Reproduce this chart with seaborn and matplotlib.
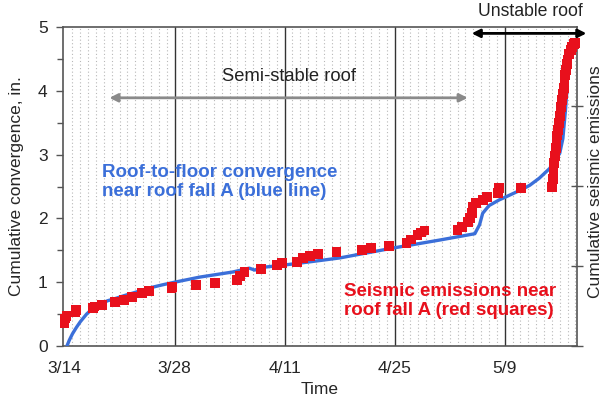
import matplotlib
matplotlib.use("Agg")
import matplotlib.pyplot as plt
import seaborn as sns
import numpy as np
import pandas as pd
from matplotlib.ticker import MultipleLocator, FixedLocator, NullFormatter

# ---- data (days since 3/14) ----
tick_days = [0, 14, 28, 42, 56]
tick_labels = ["3/14", "3/28", "4/11", "4/25", "5/9"]

conv_day = [0.3, 0.6, 1.0, 1.5, 2.0, 2.8, 3.6, 4.5, 5.5, 6.6, 7.6, 8.7, 10.8, 12.5, 14.0,
            17.2, 21.4, 23.5, 24.2, 25.0, 28.0,
            30.0, 35.0, 42.0, 47.7, 52.2, 52.8, 53.2, 54.0, 55.3, 56.2, 58.3, 59.2, 60.4,
            61.7, 62.3, 63.0, 63.4, 63.7, 63.9, 64.0]
conv_val = [0.0, 0.09, 0.19, 0.29, 0.38, 0.50, 0.59, 0.66, 0.71, 0.75, 0.79, 0.83, 0.91, 0.96, 1.0,
            1.08, 1.16, 1.22, 1.19, 1.23, 1.27,
            1.30, 1.38, 1.54, 1.66, 1.76, 1.9, 2.08, 2.2, 2.29, 2.34, 2.46, 2.52, 2.63,
            2.78, 2.88, 3.02, 3.25, 3.65, 3.97, 4.3]

seis_day = [0.0, 0.05, 0.25, 1.4, 1.5, 3.6, 3.8, 4.8, 6.4, 7.6, 8.6, 9.9, 10.7, 13.6, 13.7,
            16.7, 19.1, 21.9, 22.3, 22.9, 25.0, 27.0, 27.7, 29.6, 30.3, 31.2, 32.2, 34.6,
            37.8, 39.0, 41.3, 43.5, 44.1, 44.9, 45.4, 45.8,
            50.0, 50.6, 51.3, 51.6, 51.8, 51.9, 52.4, 53.2, 53.8, 55.1, 55.3, 58.1,
            62.0, 62.1, 62.2, 62.3, 62.4, 62.5, 62.6, 62.7, 62.8, 62.9, 63.0, 63.1, 63.2,
            63.3, 63.4, 63.5, 63.6, 63.7, 63.8, 63.9, 64.0, 64.2, 64.4, 64.6, 64.8, 64.9]
seis_val = [0.36, 0.43, 0.47, 0.53, 0.56, 0.59, 0.62, 0.64, 0.69, 0.72, 0.77, 0.83, 0.86, 0.90, 0.93,
            0.96, 0.99, 1.03, 1.10, 1.16, 1.21, 1.27, 1.30, 1.32, 1.38, 1.41, 1.44, 1.47,
            1.50, 1.53, 1.57, 1.61, 1.67, 1.74, 1.78, 1.81,
            1.82, 1.87, 1.94, 2.0, 2.08, 2.18, 2.24, 2.29, 2.33, 2.40, 2.48, 2.48,
            2.49, 2.62, 2.75, 2.87, 2.98, 3.10, 3.20, 3.30, 3.39, 3.50, 3.60, 3.68, 3.75,
            3.85, 3.95, 4.05, 4.17, 4.25, 4.33, 4.42, 4.48, 4.58, 4.64, 4.69, 4.73, 4.75]

conv_df = pd.DataFrame({"day": conv_day, "conv": conv_val})
seis_df = pd.DataFrame({"day": seis_day, "seis": seis_val})

sns.set_style("white")
plt.rcParams["font.family"] = ["Liberation Sans", "DejaVu Sans"]

fig = plt.figure(figsize=(6.02, 4.03), dpi=100)
ax = fig.add_axes([63/602, 1-346/403, (577-63)/602, (346-27)/403])

blue = "#3b6fd9"
red = "#e8101c"
spine_c = "#555555"

# grid lines
for d in range(1, 66):
    if d % 14 != 0:
        ax.axvline(d, color="#b8b8b8", lw=0.8, ls=(0, (1, 2.2)), zorder=0)
for d in tick_days[1:]:
    ax.axvline(d, color="#333333", lw=1.0, zorder=1)

sns.lineplot(data=conv_df, x="day", y="conv", ax=ax, color=blue, lw=2.4,
             sort=False, zorder=3, estimator=None)
sns.scatterplot(data=seis_df, x="day", y="seis", ax=ax, color=red, marker="s",
                s=50, edgecolor="none", linewidth=0, zorder=4, clip_on=False)

ax.set_xlim(-0.2, 65.2)
ax.set_ylim(0, 5)
ax.set_xticks(tick_days)
ax.set_xticklabels(tick_labels)
ax.yaxis.set_major_locator(MultipleLocator(1))
ax.yaxis.set_minor_locator(MultipleLocator(0.5))
ax.tick_params(axis="both", which="both", direction="out", color=spine_c, labelsize=12.5,
               length=5, width=1, pad=6)
ax.tick_params(axis="y", which="minor", length=4)
ax.tick_params(axis="y", pad=6)
for s in ax.spines.values():
    s.set_color(spine_c)
    s.set_linewidth(1.2)
ax.spines["right"].set_visible(True)

ax.set_xlabel("Time", fontsize=12.5, labelpad=4)
ax.set_ylabel("Cumulative convergence, in.", fontsize=12.5, labelpad=10)

# right axis
ax2 = ax.twinx()
ax2.set_ylim(0, 3.99)
ax2.yaxis.set_major_locator(FixedLocator([0, 1, 2, 3]))
ax2.yaxis.set_major_formatter(NullFormatter())
ax2.tick_params(axis="y", direction="inout", length=8, width=1, color=spine_c)
for s in ax2.spines.values():
    s.set_visible(False)
fig.text(595/602, 1-182/403, "Cumulative seismic emissions", rotation=90,
         fontsize=12.5, ha="center", va="center")

# annotations
ax.annotate("", xy=(5.7, 3.89), xytext=(51.3, 3.89),
            arrowprops=dict(arrowstyle="<|-|>", color="#8a8a8a", lw=2.0,
                            mutation_scale=12, shrinkA=0, shrinkB=0))
ax.text(28.5, 4.23, "Semi-stable roof", fontsize=13.2, ha="center", va="center", color="#222222")

ax.annotate("", xy=(51.8, 4.9), xytext=(66.4, 4.9), annotation_clip=False,
            arrowprops=dict(arrowstyle="<|-|>", color="black", lw=2.0,
                            mutation_scale=12, shrinkA=0, shrinkB=0))
ax.text(59.3, 5.24, "Unstable roof", fontsize=12.7, ha="center", va="center",
        color="#222222", clip_on=False)

ax.text(4.8, 2.57, "Roof-to-floor convergence\nnear roof fall A (blue line)", fontsize=13.5,
        fontweight="bold", color=blue, ha="left", va="center", linespacing=1.1)
ax.text(35.6, 0.70, "Seismic emissions near\nroof fall A (red squares)", fontsize=13.5,
        fontweight="bold", color=red, ha="left", va="center", linespacing=1.15)

fig.savefig("out.png", dpi=100)
